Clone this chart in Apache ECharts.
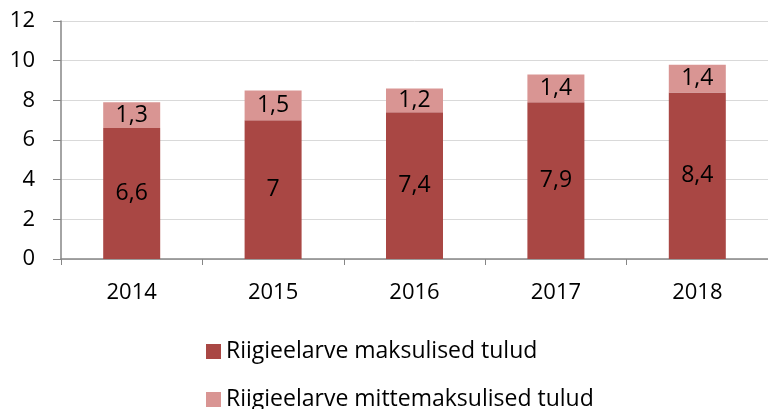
<!DOCTYPE html>
<html>
<head>
<meta charset="utf-8">
<script src="https://cdn.jsdelivr.net/npm/echarts@6/dist/echarts.min.js"></script>
<style>
  html, body { margin: 0; padding: 0; background: #fff; }
  #main { width: 768px; height: 409px; }
</style>
</head>
<body>
<div id="main"></div>
<script>
var years = ["2014", "2015", "2016", "2017", "2018"];
var maksulised = [6.6, 7, 7.4, 7.9, 8.4];
var mittemaksulised = [1.3, 1.5, 1.2, 1.4, 1.4];
var seriesNames = ["Riigieelarve maksulised tulud", "Riigieelarve mittemaksulised tulud"];

var font = "Open Sans, Lato, sans-serif";
function comma(p) { return String(p.value).replace(".", ","); }

var myChart = echarts.init(document.getElementById("main"));
var option = {
    animation: false,
    textStyle: { fontFamily: font },
    grid: { left: 61, top: 21, width: 715, height: 238, containLabel: false },
    legend: {
        orient: "vertical",
        left: 206,
        top: 340,
        height: 120,
        padding: 0,
        itemWidth: 15,
        itemHeight: 15,
        itemGap: 25,
        icon: "rect",
        textStyle: { fontSize: 23, color: "#000", fontFamily: font },
        data: seriesNames
    },
    xAxis: {
        type: "category",
        data: years,
        axisLine: { lineStyle: { color: "#868686", width: 1.5 } },
        axisTick: { show: true, length: 6, lineStyle: { color: "#868686" } },
        axisLabel: { fontSize: 22, color: "#000", margin: 23 }
    },
    yAxis: {
        type: "value",
        min: 0, max: 12, interval: 2,
        axisLine: { show: true, lineStyle: { color: "#868686", width: 1.5 } },
        axisTick: { show: true, length: 8, lineStyle: { color: "#868686" } },
        axisLabel: { fontSize: 22, color: "#000", margin: 26 },
        splitLine: { lineStyle: { color: "#D9D9D9", width: 1 } }
    },
    series: [{
        name: seriesNames[0],
        type: "bar",
        stack: "a",
        barWidth: 57,
        itemStyle: { color: "#A94744" },
        label: { show: true, position: "inside", fontSize: 23, color: "#000", formatter: comma },
        data: maksulised
    }, {
        name: seriesNames[1],
        type: "bar",
        stack: "a",
        barWidth: 57,
        itemStyle: { color: "#D99593" },
        label: { show: true, position: "inside", fontSize: 23, color: "#000", formatter: comma },
        data: mittemaksulised
    }]
};
myChart.setOption(option);
</script>
</body>
</html>
